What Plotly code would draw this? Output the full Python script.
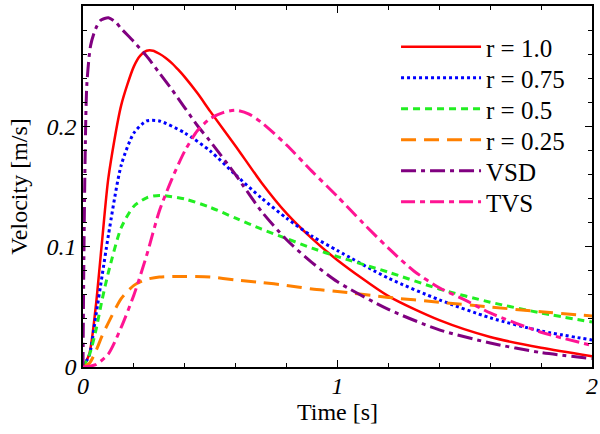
import plotly.graph_objects as go

# ---- data ----
t_r100 = [0, 0.025, 0.05, 0.075, 0.1, 0.15, 0.2, 0.225, 0.25, 0.275, 0.3, 0.325, 0.35, 0.375, 0.4, 0.45, 0.5, 0.6, 0.7, 0.8, 0.9, 1.0, 1.2, 1.4, 1.6, 1.8, 2.0]
v_r100 = [0, 0.011, 0.05, 0.105, 0.158, 0.218, 0.2505, 0.2595, 0.2635, 0.2635, 0.261, 0.2575, 0.253, 0.2475, 0.2415, 0.228, 0.213, 0.184, 0.154, 0.128, 0.107, 0.089, 0.059, 0.039, 0.025, 0.016, 0.009]

t_r075 = [0, 0.025, 0.05, 0.075, 0.1, 0.15, 0.2, 0.25, 0.3, 0.4, 0.5, 0.6, 0.7, 0.8, 0.9, 1.0, 1.2, 1.4, 1.6, 1.8, 2.0]
v_r075 = [0, 0.01, 0.042, 0.076, 0.11, 0.168, 0.195, 0.205, 0.205, 0.195, 0.18, 0.16, 0.141, 0.124, 0.109, 0.097, 0.074, 0.056, 0.041, 0.03, 0.0225]

t_r050 = [0, 0.025, 0.05, 0.075, 0.1, 0.15, 0.2, 0.25, 0.3, 0.4, 0.5, 0.6, 0.7, 0.8, 0.9, 1.0, 1.2, 1.4, 1.6, 1.8, 2.0]
v_r050 = [0, 0.01, 0.03, 0.056, 0.079, 0.116, 0.134, 0.141, 0.143, 0.14, 0.133, 0.124, 0.115, 0.107, 0.099, 0.092, 0.079, 0.065, 0.054, 0.045, 0.0375]

t_r025 = [0, 0.025, 0.05, 0.075, 0.1, 0.15, 0.2, 0.25, 0.3, 0.4, 0.5, 0.6, 0.7, 0.8, 0.9, 1.0, 1.2, 1.4, 1.6, 1.8, 2.0]
v_r025 = [0, 0.003, 0.013, 0.026, 0.037, 0.057, 0.068, 0.073, 0.075, 0.0755, 0.075, 0.0725, 0.0705, 0.068, 0.065, 0.063, 0.058, 0.054, 0.05, 0.046, 0.0425]

t_vsd = [0, 0.003, 0.008, 0.015, 0.03, 0.05, 0.07, 0.1, 0.13, 0.15, 0.2, 0.25, 0.3, 0.35, 0.4, 0.45, 0.5, 0.6, 0.7, 0.8, 0.9, 1.0, 1.2, 1.4, 1.6, 1.8, 2.0]
v_vsd = [0, 0.08, 0.17, 0.235, 0.268, 0.282, 0.289, 0.291, 0.287, 0.282, 0.271, 0.259, 0.245, 0.231, 0.216, 0.201, 0.188, 0.16, 0.13, 0.106, 0.087, 0.071, 0.048, 0.031, 0.02, 0.012, 0.007]

t_tvs = [0, 0.05, 0.1, 0.15, 0.2, 0.25, 0.3, 0.35, 0.4, 0.45, 0.5, 0.55, 0.6, 0.65, 0.7, 0.8, 0.9, 1.0, 1.1, 1.2, 1.3, 1.4, 1.5, 1.6, 1.8, 2.0]
v_tvs = [0, 0.002, 0.011, 0.033, 0.06, 0.093, 0.13, 0.157, 0.18, 0.197, 0.207, 0.212, 0.214, 0.211, 0.204, 0.185, 0.163, 0.142, 0.12, 0.099, 0.08, 0.066, 0.056, 0.045, 0.029, 0.018]

names = ["r = 1.0", "r = 0.75", "r = 0.5", "r = 0.25", "VSD", "TVS"]
colors = ["#ff0000", "#0000ff", "#22ee22", "#ff8000", "#800080", "#ff1493"]
dashes = ["solid", "dot", "7px,5px", "15px,8px", "15px,5px,4px,5px", "14px,5px,5px,5px"]
widths = [2.5, 3, 3, 3, 3, 3]
series = [(t_r100, v_r100), (t_r075, v_r075), (t_r050, v_r050), (t_r025, v_r025), (t_vsd, v_vsd), (t_tvs, v_tvs)]

FONT = "Liberation Serif"

# plot area in pixels (layout only)
W, H = 600, 434
ML, MR, MT, MB = 83, 2, 6, 67
PH = H - MT - MB

fig = go.Figure()
legend_layout = {}
for i, ((tx, vy), n, c, d, w) in enumerate(zip(series, names, colors, dashes, widths)):
    key = "legend" if i == 0 else f"legend{i + 1}"
    fig.add_trace(go.Scatter(x=tx, y=vy, mode="lines", name=n, legend=key,
                             line=dict(color=c, dash=d, width=w, shape="spline", smoothing=0.7)))
    row_px = 47 + 31 * i
    legend_layout[key] = dict(x=0.615, y=1 - (row_px - MT) / PH, xanchor="left", yanchor="middle",
                              bgcolor="rgba(0,0,0,0)", itemwidth=80,
                              font=dict(family=FONT, size=25, color="black"))

axis_common = dict(showline=True, linecolor="black", linewidth=1.5, mirror="allticks",
                   ticks="inside", ticklen=7, tickwidth=1.2, tickcolor="black",
                   showgrid=False, zeroline=False, ticklabeloverflow="allow",
                   tickfont=dict(family=FONT, size=24, color="black", style="italic"),
                   title_font=dict(family=FONT, size=24, color="black"))

fig.update_xaxes(range=[0, 2], tickvals=[0, 1, 2], ticktext=["0", "1", "2"],
                 minor=dict(dtick=0.2, ticks="inside", ticklen=4, tickcolor="black", tickwidth=1.2),
                 title_text="Time [s]", title_standoff=0, ticklabelstandoff=-4, **axis_common)
fig.update_yaxes(range=[0, 0.3008], tickvals=[0, 0.1, 0.2], ticktext=["0", "0.1", "0.2"],
                 minor=dict(dtick=0.02, ticks="inside", ticklen=4, tickcolor="black", tickwidth=1.2),
                 title_text="Velocity [m/s]", title_standoff=12, **axis_common)

fig.update_layout(width=W, height=H, margin=dict(l=ML, r=MR, t=MT, b=MB),
                  plot_bgcolor="white", paper_bgcolor="white",
                  font=dict(family=FONT, size=24, color="black"),
                  showlegend=True, **legend_layout)

fig.write_html("out.html")
